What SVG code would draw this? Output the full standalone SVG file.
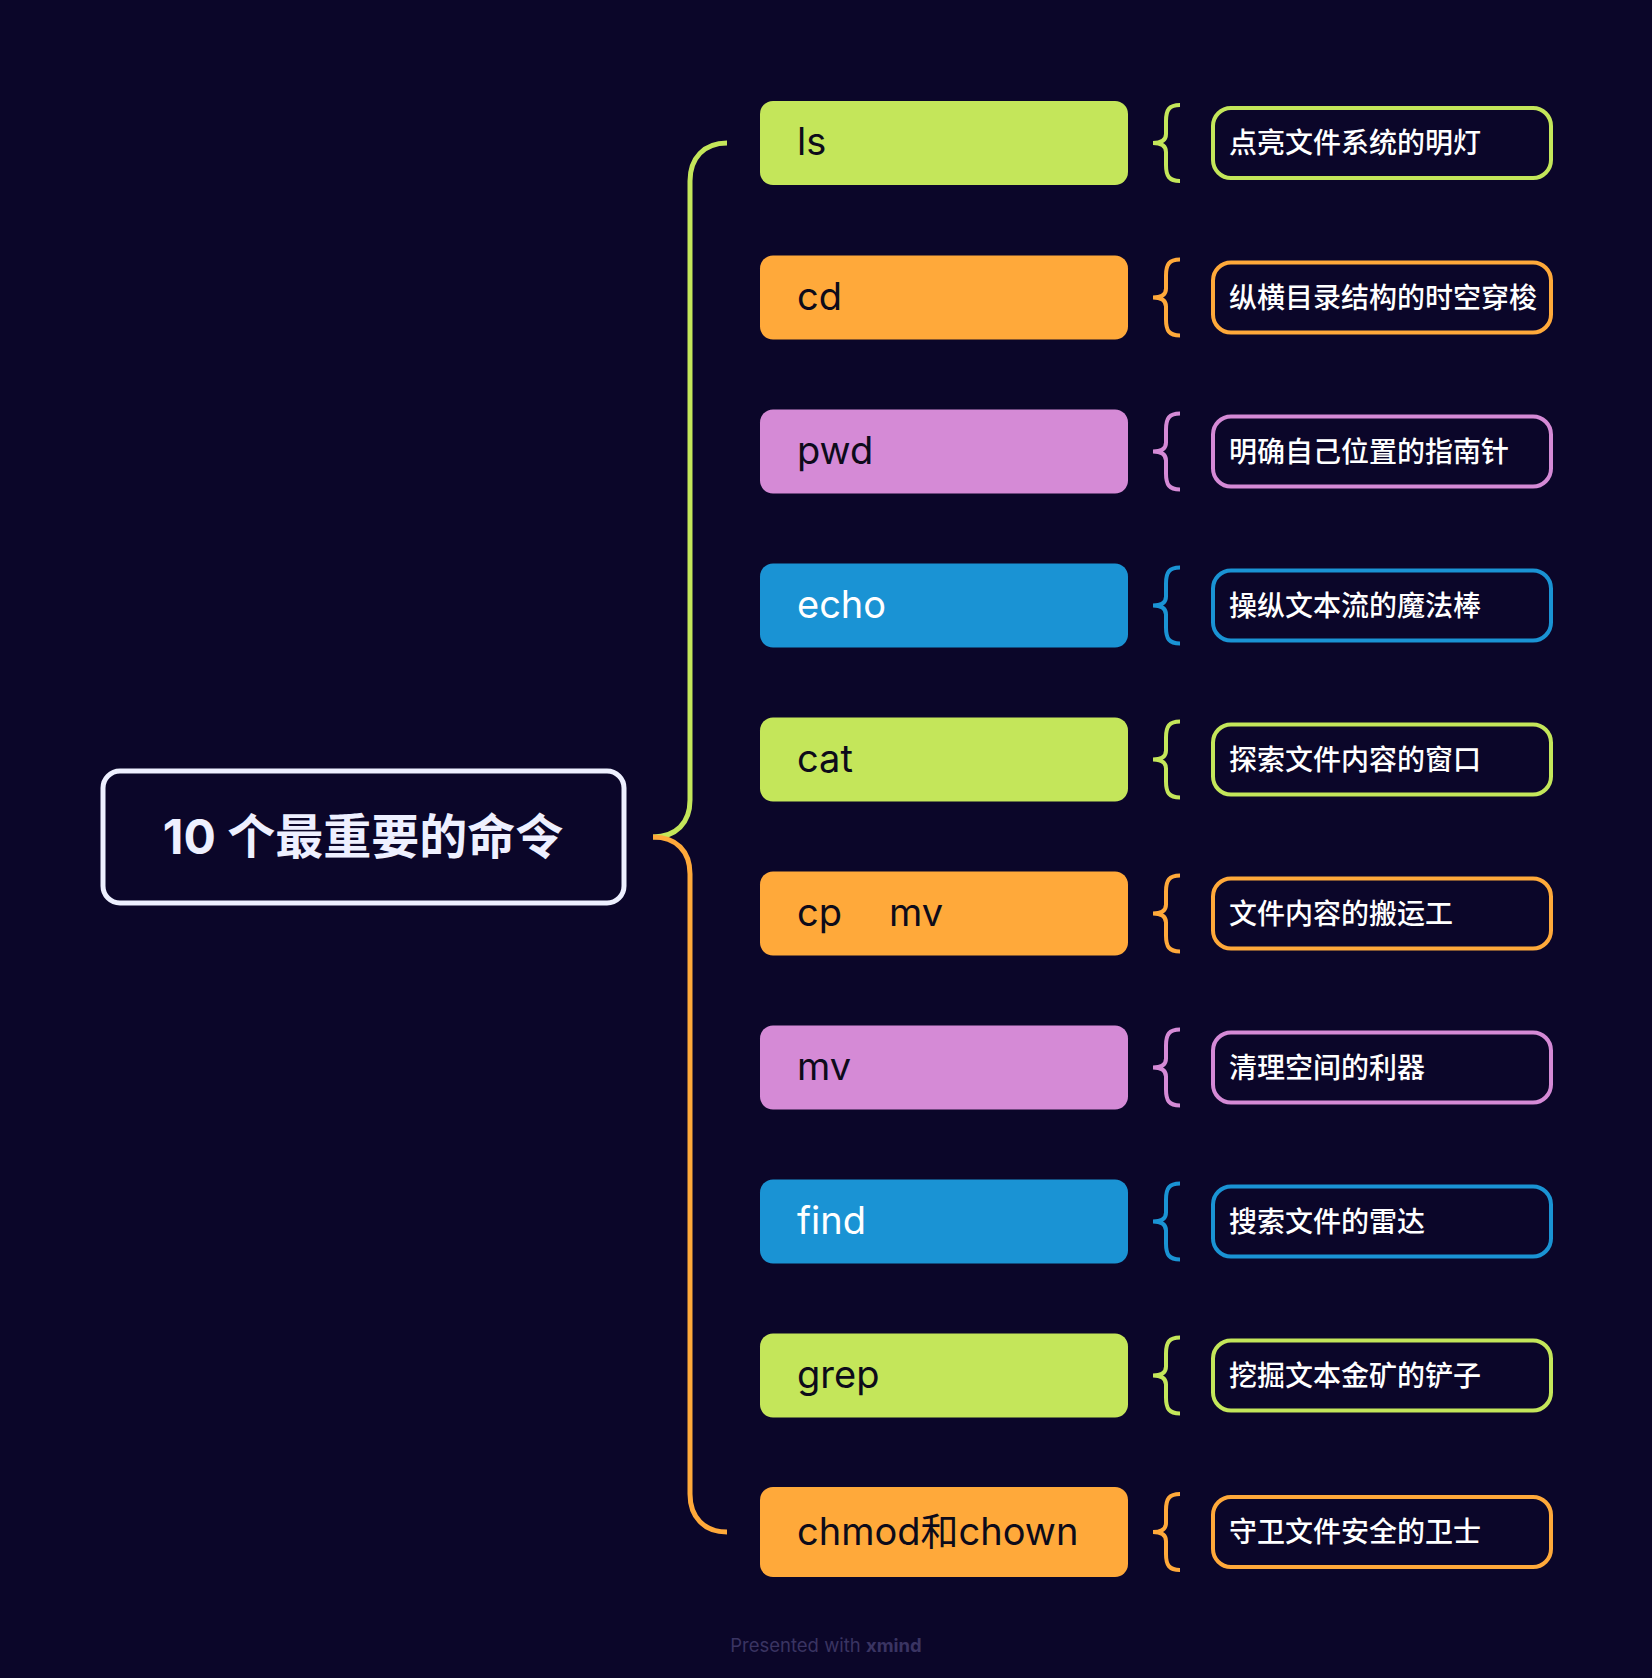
<svg xmlns="http://www.w3.org/2000/svg" width="1652" height="1678" viewBox="0 0 1652 1678">
<style>
.cmd{font-family:Inter,"Noto Sans","Noto Sans CJK SC",sans-serif;font-size:38px;font-weight:400}
.dk{fill:#0d0b1a}
.wt{fill:#ffffff}
.desc{font-family:"Noto Sans CJK SC",sans-serif;font-size:28px;font-weight:500;fill:#ffffff}
.dbox{fill:#0b0629;stroke-width:4}
.brace{fill:none;stroke-width:4;stroke-linecap:butt}
.g{fill:#c4e65a}.o{fill:#ffa93a}.p{fill:#d58ad6}.b{fill:#1a93d4}
.sg{stroke:#c4e65a}.so{stroke:#ffa93a}.sp{stroke:#d58ad6}.sb{stroke:#1a93d4}
</style>
<defs>
<path id="br" d="M0,-38 C-11,-38 -14,-33 -14,-22 L-14,-9 C-14,-3 -19,0 -27,0 C-19,0 -14,3 -14,9 L-14,22 C-14,33 -11,38 0,38"/>
</defs>
<rect x="0" y="0" width="1652" height="1678" fill="#0b0629"/>

<g id="connectors" fill="none" stroke-width="5">
<path d="M727,143 C704,143 690,158 690,181 L690,800 C690,823 676,837 653,837" stroke="#c4e65a"/>
<path d="M653,837 C676,837 690,851 690,874 L690,1494 C690,1517 704,1532 727,1532" stroke="#ffa93a"/>
</g>

<g id="root">
<rect x="103" y="771" width="521" height="132" rx="17" fill="#0b0629" stroke="#eef0ff" stroke-width="5"/>
<text x="363" y="854" text-anchor="middle" font-family="Inter,'Noto Sans CJK SC',sans-serif" font-size="48" font-weight="700" fill="#eef0ff">10 个最重要的命令</text>
</g>

<g id="n-ls">
<rect x="760" y="101" width="368" height="84" rx="13" class="g"/>
<text x="797" y="155" class="cmd dk">ls</text>
<use href="#br" x="1180" y="143" class="brace sg"/>
<rect x="1213" y="108" width="338" height="70" rx="18" class="dbox sg"/>
<text x="1229" y="153" class="desc">点亮文件系统的明灯</text>
</g>

<g id="n-cd">
<rect x="760" y="255.5" width="368" height="84" rx="13" class="o"/>
<text x="797" y="309.5" class="cmd dk">cd</text>
<use href="#br" x="1180" y="297.5" class="brace so"/>
<rect x="1213" y="262.5" width="338" height="70" rx="18" class="dbox so"/>
<text x="1229" y="307.5" class="desc">纵横目录结构的时空穿梭</text>
</g>

<g id="n-pwd">
<rect x="760" y="409.5" width="368" height="84" rx="13" class="p"/>
<text x="797" y="463.5" class="cmd dk">pwd</text>
<use href="#br" x="1180" y="451.5" class="brace sp"/>
<rect x="1213" y="416.5" width="338" height="70" rx="18" class="dbox sp"/>
<text x="1229" y="461.5" class="desc">明确自己位置的指南针</text>
</g>

<g id="n-echo">
<rect x="760" y="563.5" width="368" height="84" rx="13" class="b"/>
<text x="797" y="617.5" class="cmd wt">echo</text>
<use href="#br" x="1180" y="605.5" class="brace sb"/>
<rect x="1213" y="570.5" width="338" height="70" rx="18" class="dbox sb"/>
<text x="1229" y="615.5" class="desc">操纵文本流的魔法棒</text>
</g>

<g id="n-cat">
<rect x="760" y="717.5" width="368" height="84" rx="13" class="g"/>
<text x="797" y="771.5" class="cmd dk">cat</text>
<use href="#br" x="1180" y="759.5" class="brace sg"/>
<rect x="1213" y="724.5" width="338" height="70" rx="18" class="dbox sg"/>
<text x="1229" y="769.5" class="desc">探索文件内容的窗口</text>
</g>

<g id="n-cpmv">
<rect x="760" y="871.5" width="368" height="84" rx="13" class="o"/>
<text x="797" y="925.5" class="cmd dk">cp<tspan x="889">mv</tspan></text>
<use href="#br" x="1180" y="913.5" class="brace so"/>
<rect x="1213" y="878.5" width="338" height="70" rx="18" class="dbox so"/>
<text x="1229" y="923.5" class="desc">文件内容的搬运工</text>
</g>

<g id="n-mv">
<rect x="760" y="1025.5" width="368" height="84" rx="13" class="p"/>
<text x="797" y="1079.5" class="cmd dk">mv</text>
<use href="#br" x="1180" y="1067.5" class="brace sp"/>
<rect x="1213" y="1032.5" width="338" height="70" rx="18" class="dbox sp"/>
<text x="1229" y="1077.5" class="desc">清理空间的利器</text>
</g>

<g id="n-find">
<rect x="760" y="1179.5" width="368" height="84" rx="13" class="b"/>
<text x="797" y="1233.5" class="cmd wt">find</text>
<use href="#br" x="1180" y="1221.5" class="brace sb"/>
<rect x="1213" y="1186.5" width="338" height="70" rx="18" class="dbox sb"/>
<text x="1229" y="1231.5" class="desc">搜索文件的雷达</text>
</g>

<g id="n-grep">
<rect x="760" y="1333.5" width="368" height="84" rx="13" class="g"/>
<text x="797" y="1387.5" class="cmd dk">grep</text>
<use href="#br" x="1180" y="1375.5" class="brace sg"/>
<rect x="1213" y="1340.5" width="338" height="70" rx="18" class="dbox sg"/>
<text x="1229" y="1385.5" class="desc">挖掘文本金矿的铲子</text>
</g>

<g id="n-chmod">
<rect x="760" y="1487" width="368" height="90" rx="13" class="o"/>
<text x="797" y="1545" class="cmd dk">chmod和chown</text>
<use href="#br" x="1180" y="1532" class="brace so"/>
<rect x="1213" y="1497" width="338" height="70" rx="18" class="dbox so"/>
<text x="1229" y="1542" class="desc">守卫文件安全的卫士</text>
</g>

<g id="footer">
<text x="826" y="1652" text-anchor="middle" font-family="Inter,'Open Sans',sans-serif" font-size="18.5" fill="#3a3462">Presented with <tspan font-weight="700">xmind</tspan></text>
</g>
</svg>
